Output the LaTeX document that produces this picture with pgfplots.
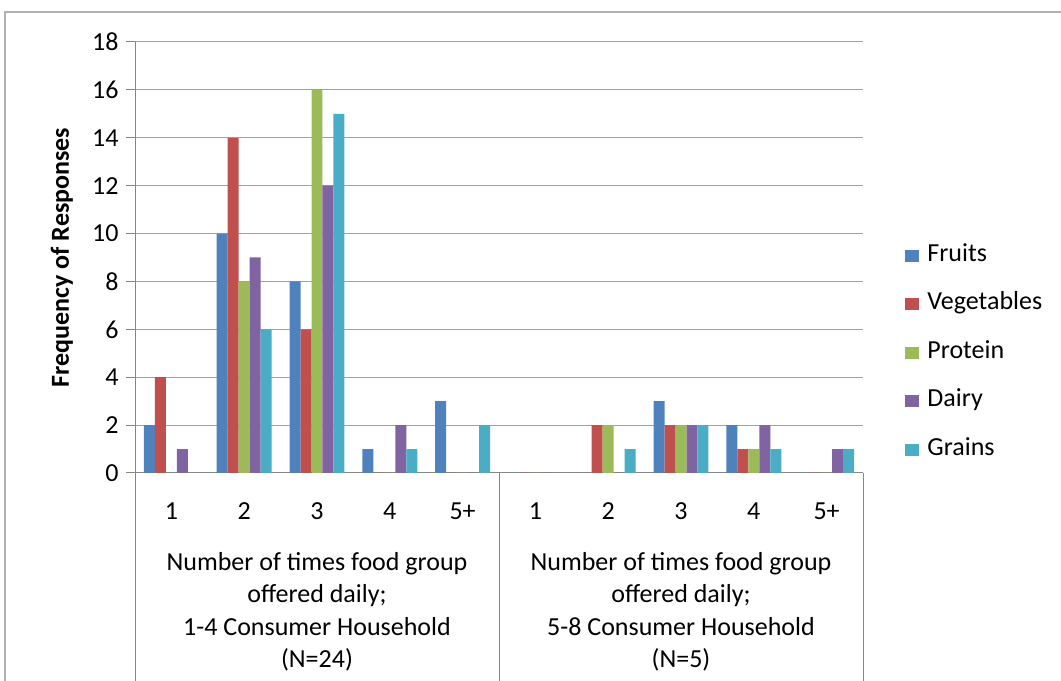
\documentclass[border=0pt]{standalone}
\usepackage{fontspec}
\setmainfont{Carlito}
\usepackage{pgfplots}
\pgfplotsset{compat=1.18}

\definecolor{cFruits}{HTML}{4F81BD}
\definecolor{cVeg}{HTML}{C0504D}
\definecolor{cProtein}{HTML}{9BBB59}
\definecolor{cDairy}{HTML}{8064A2}
\definecolor{cGrains}{HTML}{4BACC6}
\definecolor{axisgray}{HTML}{868686}
\definecolor{gridgray}{HTML}{A0A0A0}

% Responses per category: 0-4 = 1-4 consumer households, 5-9 = 5-8 consumer households
\pgfplotstableread{
x Fruits Vegetables Protein Dairy Grains
0 2  4  0  1  0
1 10 14 8  9  6
2 8  6  16 12 15
3 1  0  0  2  1
4 3  0  0  0  2
5 0  0  0  0  0
6 0  2  2  0  1
7 3  2  2  2  2
8 2  1  1  2  1
9 0  0  0  1  1
}\freqdata

\newcommand{\chartfont}{\fontsize{26bp}{32.5bp}\selectfont}

\begin{document}
\begin{tikzpicture}
\useasboundingbox (0bp,0bp) rectangle (1061bp,681bp);
\draw[gray!60, line width=1.5bp] (5bp,0bp) -- (5bp,669bp) -- (1061bp,669bp);
\begin{axis}[
  at={(135bp,208bp)}, anchor=south west,
  scale only axis, width=728bp, height=431bp,
  xmin=-0.5, xmax=9.5, ymin=0, ymax=18,
  axis lines*=left,
  axis line style={axisgray, line width=1bp},
  ytick={0,2,...,18},
  xtick={0,...,9},
  xticklabels={1,2,3,4,5+,1,2,3,4,5+},
  x tick style={draw=none},
  y tick style={axisgray, line width=1bp},
  tick align=outside, major tick length=9bp,
  ymajorgrids, grid style={gridgray, line width=1bp},
  xticklabel style={yshift=-17bp},
  yticklabel style={xshift=-4bp},
  /pgf/number format/assume math mode=true,
  font=\chartfont,
  tick label style={font=\chartfont},
  ybar=0pt, bar width=0.151,
  ylabel={\bfseries Frequency of Responses},
  ylabel style={at={(axis description cs:-0.1003,0.5)}, anchor=center, font=\chartfont},
  clip=false,
  legend style={draw=none, fill=none, at={(axis description cs:1.058,0.531)}, anchor=north west,
    font=\chartfont, row sep=25.5bp, column sep=8bp, inner sep=0pt,
    nodes={inner sep=0pt, text height=17bp, text depth=6bp},
    legend cell align=left},
  legend image code/.code={\fill[#1] (0bp,-6bp) rectangle (14bp,6bp);},
]
\addplot[fill=cFruits, draw=none] table[x=x, y=Fruits] {\freqdata};
\addplot[fill=cVeg, draw=none] table[x=x, y=Vegetables] {\freqdata};
\addplot[fill=cProtein, draw=none] table[x=x, y=Protein] {\freqdata};
\addplot[fill=cDairy, draw=none] table[x=x, y=Dairy] {\freqdata};
\addplot[fill=cGrains, draw=none] table[x=x, y=Grains] {\freqdata};
\legend{Fruits, Vegetables, Protein, Dairy, Grains}

% group separators below the category axis
\draw[axisgray, line width=1bp] (axis cs:-0.5,0) -- (axis cs:-0.5,-8.8);
\draw[axisgray, line width=1bp] (axis cs:4.5,0) -- (axis cs:4.5,-8.8);
\draw[axisgray, line width=1bp] (axis cs:9.5,0) -- (axis cs:9.5,-8.8);

\node[anchor=north, align=center, font=\chartfont] at (axis cs:2,-3.17)
  {Number of times food group\\offered daily;\\1-4 Consumer Household\\(N=24)};
\node[anchor=north, align=center, font=\chartfont] at (axis cs:7,-3.17)
  {Number of times food group\\offered daily;\\5-8 Consumer Household\\(N=5)};
\end{axis}
\end{tikzpicture}
\end{document}
